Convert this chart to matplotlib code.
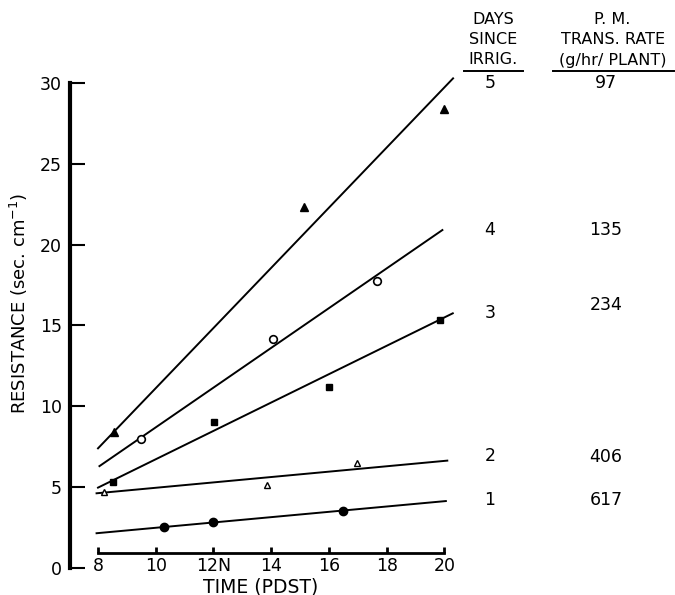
import matplotlib
matplotlib.use('Agg')
import matplotlib.pyplot as plt
from matplotlib.lines import Line2D

# measured points (time of day, resistance sec/cm)
x5 = [8.54, 15.12, 20.0]
y5 = [8.43, 22.35, 28.37]
x4 = [9.5, 14.07, 17.68]
y4 = [8.0, 14.14, 17.75]
x3 = [8.52, 12.02, 16.01, 19.83]
y3 = [5.34, 9.05, 11.17, 15.34]
x2 = [8.22, 13.87, 16.97]
y2 = [4.72, 5.15, 6.47]
x1 = [10.27, 11.98, 16.47]
y1 = [2.56, 2.87, 3.55]

# fitted lines, start and end
fit_x = [[8.0, 20.3], [8.05, 19.93], [8.0, 20.29], [7.95, 20.1], [7.95, 20.05]]
fit_y = [[7.4, 30.28], [6.3, 20.9], [4.97, 15.75], [4.62, 6.64], [2.15, 4.14]]

days = ['5', '4', '3', '2', '1']
rates = ['97', '135', '234', '406', '617']

xticks = [8, 10, 12, 14, 16, 18, 20]
xticklabels = ['8', '10', '12N', '14', '16', '18', '20']
yticks = [0, 5, 10, 15, 20, 25, 30]

W, H = 675, 595
fig = plt.figure(figsize=(6.75, 5.95), dpi=100)
ax = fig.add_axes([70 / W, 1 - 568 / H, 390 / W, (568 - 74.8) / H])

for fx, fy in zip(fit_x, fit_y):
    ax.plot(fx, fy, color='black', lw=1.4, clip_on=False)

ax.plot(x5, y5, '^', color='black', ms=6, clip_on=False)
ax.plot(x4, y4, 'o', mfc='white', mec='black', mew=1.2, ms=5.5, clip_on=False)
ax.plot(x3, y3, 's', color='black', ms=5, clip_on=False)
ax.plot(x2, y2, '^', mfc='white', mec='black', mew=1.0, ms=5, clip_on=False)
ax.plot(x1, y1, 'o', color='black', ms=6, clip_on=False)

ax.set_xlim(7.03, 20.54)
ax.set_ylim(0, 30.5)

for s in ['top', 'right']:
    ax.spines[s].set_visible(False)
ax.spines['left'].set_bounds(0, 30)
ax.spines['left'].set_linewidth(3)
ax.spines['bottom'].set_position(('data', 0.93))
ax.spines['bottom'].set_bounds(8, 20)
ax.spines['bottom'].set_linewidth(2)

ax.set_xticks(xticks)
ax.set_xticklabels(xticklabels)
ax.set_yticks(yticks)
ax.tick_params(axis='y', direction='in', length=11, width=1.5, labelsize=12.5, pad=6)
ax.tick_params(axis='x', direction='in', length=4.5, width=2, labelsize=12.5, pad=3)

ax.set_ylabel('RESISTANCE (sec. cm$^{-1}$)', fontsize=13)
ax.yaxis.set_label_coords(-0.131, 0.537)
ax.set_xlabel('TIME (PDST)', fontsize=13.5)
ax.xaxis.set_label_coords(0.49, -0.038)
ax.xaxis.label.set_va('center')
ax.yaxis.label.set_va('center')

# right side table
def ftxt(px, py, s, size=11.5):
    fig.text(px / W, 1 - py / H, s, ha='center', va='center', fontsize=size)

ftxt(493, 20, 'DAYS')
ftxt(493, 40, 'SINCE')
ftxt(493, 60, 'IRRIG.')
ftxt(612, 20, 'P. M.')
ftxt(613, 40, 'TRANS. RATE')
ftxt(613, 60, '(g/hr/ PLANT)')
fig.add_artist(Line2D([464 / W, 523 / W], [1 - 71 / H, 1 - 71 / H], color='black', lw=1.4))
fig.add_artist(Line2D([553 / W, 674 / W], [1 - 71 / H, 1 - 71 / H], color='black', lw=1.4))

day_y = [83, 230, 313, 456, 500]
rate_y = [83, 230, 305, 457, 500]
for d, r, dy, ry in zip(days, rates, day_y, rate_y):
    ftxt(490, dy, d, 12.5)
    ftxt(606, ry, r, 12.5)

fig.savefig('out.png', dpi=100)
